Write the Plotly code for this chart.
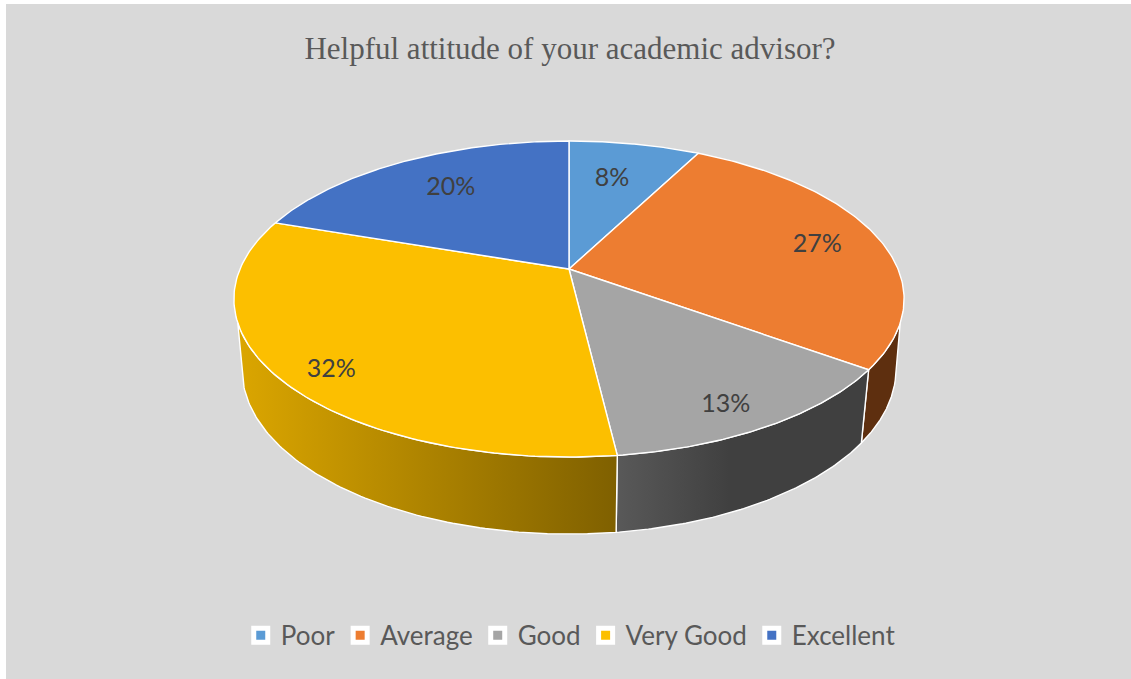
import numpy as np
import plotly.graph_objects as go

# ---- data ----
CATEGORIES = ["Poor", "Average", "Good", "Very Good", "Excellent"]
VALUES = [7.6, 27.4, 13.1, 32.1, 19.8]
TITLE = "Helpful attitude of your academic advisor?"

# ---- style ----
TOP_COLORS = ["#5B9BD5", "#ED7D31", "#A5A5A5", "#FCBF00", "#4472C4"]
SIDE_SCALES = {
    1: [[0, "#5E2F0F"], [1, "#5E2F0F"]],
    2: [[0, "#595959"], [0.45, "#404040"], [1, "#404040"]],
    3: [[0, "#DBA600"], [1, "#7F6000"]],
}
LABEL_RADIUS = [0.70, 0.80, 0.86, 0.865, 0.73]
LABEL_TURN = [-1.5, 0.5, 2.1, -2.9, 2.3]
LABEL_DROP = 2.5

# ---- projection of the tilted disc ----
CX, K = 569.0, 0.19
TOP = dict(R=329.0, Y0=269.0, H=152.3)
BOTTOM = dict(R=321.0, Y0=338.0, H=158.8)
TOP_VISIBLE = (109.4, 250.6)     # silhouette angles on the top rim
BOTTOM_VISIBLE = (104.6, 255.4)  # silhouette angles on the bottom rim


def project(theta_deg, r, disc):
    t = np.radians(theta_deg)
    u, v = r * np.sin(t), r * np.cos(t)
    w = 1 + K * v
    return CX + disc["R"] * u / w, disc["Y0"] - disc["H"] * v / w


def clip(a, b, rng):
    return max(a, rng[0]), min(b, rng[1])


total = sum(VALUES)
edges = np.concatenate([[0], np.cumsum(VALUES)]) * 360.0 / total
fig = go.Figure()
NO_HOVER = dict(hoverinfo="skip", showlegend=False)

# side faces
for i in (1, 2, 3):
    a, b = edges[i], edges[i + 1]
    tt = np.linspace(*clip(a, b, TOP_VISIBLE), 100)
    bt = np.linspace(*clip(a, b, BOTTOM_VISIBLE), 100)
    xt, yt = project(tt, 1.0, TOP)
    xb, yb = project(bt, 1.0, BOTTOM)
    fig.add_trace(go.Scatter(
        x=np.concatenate([xt, xb[::-1], xt[:1]]), y=np.concatenate([yt, yb[::-1], yt[:1]]),
        mode="lines", fill="toself",
        fillgradient=dict(type="horizontal", colorscale=SIDE_SCALES[i]),
        line=dict(color="white", width=1.4), **NO_HOVER))

# top wedges
for i, cat in enumerate(CATEGORIES):
    th = np.linspace(edges[i], edges[i + 1], 120)
    xa, ya = project(th, 1.0, TOP)
    xc, yc = project(0.0, 0.0, TOP)
    fig.add_trace(go.Scatter(
        x=np.concatenate([[xc], xa, [xc]]), y=np.concatenate([[yc], ya, [yc]]),
        mode="lines", fill="toself", fillcolor=TOP_COLORS[i],
        line=dict(color="white", width=1.4), **NO_HOVER))

# value labels
mids = (edges[:-1] + edges[1:]) / 2 + np.array(LABEL_TURN)
lx, ly = [], []
for m, r in zip(mids, LABEL_RADIUS):
    x, y = project(m, r, TOP)
    lx.append(x)
    ly.append(y + LABEL_DROP)
fig.add_trace(go.Scatter(
    x=lx, y=ly, mode="text", text=[f"{v:.0f}%" for v in VALUES],
    textposition="middle center",
    textfont=dict(family="Lato", size=25, color="#404040"), **NO_HOVER))

# legend entries
for cat, col in zip(CATEGORIES, TOP_COLORS):
    fig.add_trace(go.Scatter(
        x=[None], y=[None], mode="markers", name=cat, hoverinfo="skip",
        marker=dict(symbol="square", size=14, color=col,
                    line=dict(color="white", width=5))))

fig.update_layout(
    width=1131, height=679,
    margin=dict(l=6, r=0, t=4, b=0),
    paper_bgcolor="white", plot_bgcolor="#D9D9D9",
    xaxis=dict(visible=False, range=[6, 1131], fixedrange=True),
    yaxis=dict(visible=False, range=[679, 4], fixedrange=True),
    title=dict(text=TITLE, x=567 / 1131, xanchor="center", xref="paper",
               y=1 - 48 / 679, yanchor="middle", yref="container",
               font=dict(family="Liberation Serif", size=31, color="#595959")),
    legend=dict(orientation="h", x=0.502, xanchor="center", y=1 - 635 / 679,
                yanchor="middle", bgcolor="rgba(0,0,0,0)",
                font=dict(family="Lato", size=26, color="#595959")),
    showlegend=True,
)

fig.write_html("out.html", post_script="document.body.style.margin='0';",
               config=dict(displayModeBar=False))
